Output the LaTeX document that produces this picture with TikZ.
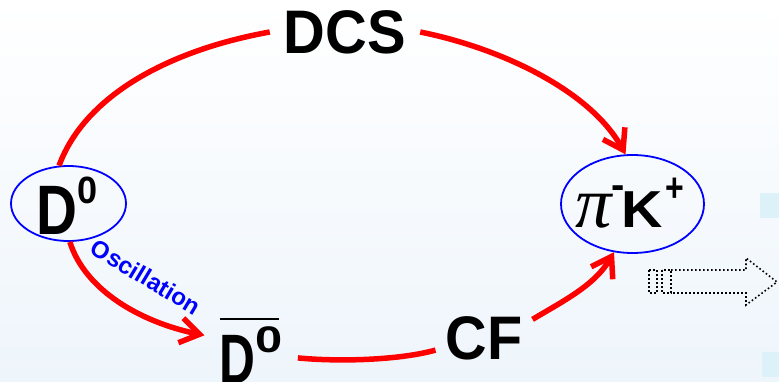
\documentclass[tikz,border=0pt]{standalone}
\usepackage{graphicx}
\usepackage{fontspec}
\setmainfont{Liberation Sans}
\newfontfamily\pifont{Liberation Serif}
\usetikzlibrary{arrows.meta,shapes.geometric}
\definecolor{bgblue}{RGB}{238,245,251}
\definecolor{tile}{RGB}{221,242,248}
\newcommand\fs[1]{\fontsize{#1}{#1}\selectfont}
\newcommand\placeat[2]{\makebox[0pt][l]{\hspace*{#1}#2}}
\begin{document}
\begin{tikzpicture}[x=1pt,y=-1pt,
  redline/.style={draw=red,line width=5.5pt},
  redarrow/.style={redline,-{Straight Barb[length=19pt,width=25pt]}},
  ring/.style={ellipse,draw=blue,line width=1.8pt,inner sep=0pt},
  lbl/.style={inner sep=0pt,text=black,font=\bfseries},
  dotline/.style={draw=black,line width=1.6pt,dash pattern=on 1.6pt off 2.4pt}
]
\useasboundingbox (0,0) rectangle (779,381);
\shade[top color=white,bottom color=bgblue] (0,0) rectangle (779,381);
\fill[tile] (760,193) rectangle (779,218);
\fill[tile] (762,352) rectangle (779,377);

\node[ring,minimum width=115pt,minimum height=75pt] (d0) at (68.5,203.5) {};
\node[ring,minimum width=143pt,minimum height=98pt] (pk) at (632.5,204) {};

\node[lbl,anchor=base west] (d0txt) at (36,234)
  {\scalebox{0.81}[1]{\fs{70}D}\raisebox{31pt}{\scalebox{0.95}[1]{\fs{38}0}}};
\node[lbl,anchor=base west,inner xsep=15pt] (d0bar) at (204.4,383)
  {\placeat{0pt}{\raisebox{63pt}{\rule{59pt}{2pt}}}\scalebox{0.71}[1]{\fs{70}D}\raisebox{31pt}{\scalebox{1.32}[1]{\fs{37}0}}};
\node[lbl,inner xsep=14pt] (dcs) at (345,32) {\scalebox{0.94}[1]{\fs{61.5}DCS}};
\node[lbl,inner xsep=10pt] (cf) at (484,338) {\scalebox{0.935}[1]{\fs{61.5}CF}};
\node[lbl,anchor=base west] (pktxt) at (575,227)
  {\placeat{0pt}{\resizebox*{!}{34pt}{\pifont\itshape\mdseries π}}%
   \placeat{35.8pt}{\raisebox{29pt}{\fs{40}-}}%
   \placeat{45.8pt}{\scalebox{1.1}[1]{\fs{52}K}}%
   \hspace*{90.7pt}\raisebox{25.6pt}{\scalebox{0.8}[1]{\fs{40}+}}};
\node[text=blue,font=\bfseries\fs{24},rotate=-31,inner sep=0pt] (osc) at (146,277) {Oscillation};

\draw[redline] (d0.104) .. controls (85,95) and (170,50) .. (dcs.west);
\draw[redarrow] (dcs.east) .. controls (500,48) and (590,90) .. (pk.98);
\draw[redarrow] (d0.-88) .. controls (85,290) and (140,322) .. (d0bar.162);
\draw[redline] (d0bar.-9) .. controls (340,362) and (400,360) .. (cf.194);
\draw[redarrow] (cf.21) .. controls (565,300) and (595,285) .. (pk.249);

\draw[dotline] (649,270) rectangle (657,293);
\draw[dotline] (662,270) rectangle (671,293);
\draw[dotline] (671,270) -- (746,270) -- (746,258) -- (777,282) -- (746,305) -- (746,293) -- (671,293) -- cycle;
\end{tikzpicture}
\end{document}
